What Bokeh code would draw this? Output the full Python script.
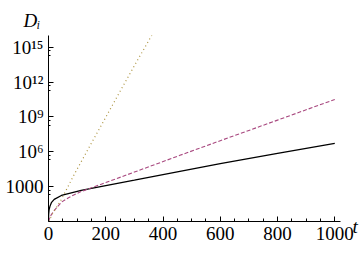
import numpy as np
from bokeh.plotting import figure
from bokeh.models import FixedTicker, Range1d, Title, LogAxis
from bokeh.embed import file_html
from bokeh.resources import INLINE

# ---- data (log10 of D_i) ----
t_solid = [0, 0.5, 2, 5, 10, 20, 45, 90, 114, 150, 200, 300, 459, 600, 800, 1000]
logD_solid = [0, 0.6, 1.0, 1.3, 1.62, 1.9, 2.24, 2.53, 2.67, 2.84, 3.08, 3.55, 4.32, 4.97, 5.86, 6.72]

t_dashed = [0, 2, 5, 10, 21, 45, 70, 90, 110, 130, 200, 300, 459, 600, 800, 1000]
logD_dashed = [0, 0.15, 0.35, 0.6, 0.98, 1.66, 2.05, 2.3, 2.53, 2.72, 3.35, 4.25, 5.69, 6.95, 8.72, 10.5]

t_dotted = [2, 10, 45, 90, 150, 193, 250, 300, 365]
logD_dotted = [0, 0.5, 1.9, 4.05, 6.75, 8.65, 11.2, 13.4, 16.2]

x_ticks = [0, 200, 400, 600, 800, 1000]
x_minor = [50, 100, 150, 250, 300, 350, 450, 500, 550, 650, 700, 750, 850, 900, 950]
y_ticks = [1e3, 1e6, 1e9, 1e12, 1e15]
y_tick_labels = ["1000", "10\u2076", "10\u2079", "10\u00b9\u00b2", "10\u00b9\u2075"]

FONT = "Liberation Serif"

p = figure(width=360, height=253, output_backend="svg", toolbar_location=None,
           y_axis_type="log",
           x_range=Range1d(0, 1020), y_range=Range1d(1, 1e16),
           min_border_left=48, min_border_right=16, min_border_top=35, min_border_bottom=32)
p.outline_line_color = None
p.grid.visible = False
p.background_fill_color = "white"

p.line(t_solid, 10 ** np.array(logD_solid), line_color="black", line_width=1.3)
p.line(t_dashed, 10 ** np.array(logD_dashed), line_color="#a8487f", line_width=1.1,
       line_dash="4 2")
p.line(t_dotted, 10 ** np.array(logD_dotted), line_color="#ad9440", line_width=1.2,
       line_dash="1 3")

# x axis
xa = p.xaxis[0]
xa.ticker = FixedTicker(ticks=x_ticks, minor_ticks=x_minor)
xa.major_tick_in = 5
xa.major_tick_out = 0
xa.minor_tick_in = 3
xa.minor_tick_out = 0
xa.major_label_text_font = FONT
xa.major_label_text_font_size = "19px"
xa.major_label_text_color = "black"
xa.major_label_standoff = 5
xa.axis_line_color = "black"

# y axis
ya = p.yaxis[0]
y_minor = []
for m in y_ticks:
    y_minor += [m * 0.2, m * 0.5]
ya.ticker = FixedTicker(ticks=y_ticks, minor_ticks=y_minor)
ya.major_label_overrides = {v: s for v, s in zip(y_ticks, y_tick_labels)}
ya.major_tick_in = 5
ya.major_tick_out = 0
ya.minor_tick_in = 2
ya.minor_tick_out = 0
ya.major_label_text_font = FONT
ya.major_label_text_font_size = "19px"
ya.major_label_text_color = "black"
ya.major_label_standoff = 5
ya.axis_line_color = "black"

# "t" label at the right end of the x axis (as a label-only right axis)
t_axis = LogAxis(ticker=FixedTicker(ticks=[1], minor_ticks=[]),
                 major_label_overrides={1: "\nt"},
                 axis_line_color=None, major_tick_line_color=None,
                 minor_tick_line_color=None,
                 major_label_text_font=FONT, major_label_text_font_style="italic",
                 major_label_text_font_size="19px", major_label_text_color="black",
                 major_label_text_line_height=0.5,
                 major_label_standoff=6)
p.add_layout(t_axis, "right")

# "D_i" label above the y axis
p.add_layout(Title(text="D\u1d62", align="left", offset=-25, standoff=10,
                   text_font=FONT, text_font_style="italic", text_font_size="19px",
                   text_color="black"), "above")

open("out.html", "w").write(file_html(p, INLINE))
